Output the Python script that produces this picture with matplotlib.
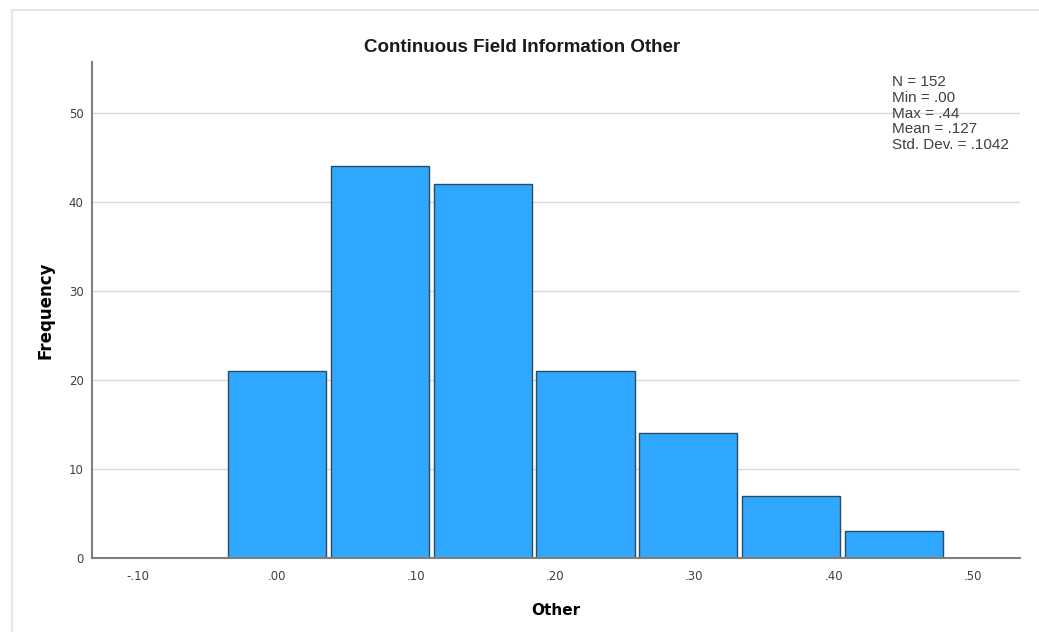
import matplotlib
matplotlib.use("Agg")
import matplotlib.pyplot as plt
from matplotlib.patches import Rectangle

# ---- data ----
bin_centers = [0.0, 0.0739, 0.1478, 0.2217, 0.2956, 0.3695, 0.4434]
counts = [21, 44, 42, 21, 14, 7, 3]
bin_width = 0.0739
x_ticks = [-0.10, 0.00, 0.10, 0.20, 0.30, 0.40, 0.50]
x_tick_labels = ["-.10", ".00", ".10", ".20", ".30", ".40", ".50"]
y_ticks = [0, 10, 20, 30, 40, 50]
stat_names = ["N", "Min", "Max", "Mean", "Std. Dev."]
stat_values = ["152", ".00", ".44", ".127", ".1042"]
title = "Continuous Field Information Other"
x_label = "Other"
y_label = "Frequency"

W, H = 1039, 632
fig = plt.figure(figsize=(W / 100, H / 100), dpi=100)

# light outer frame
fig.patches.append(Rectangle((12 / W, -0.1), 1.2, 1.1 - 10 / H, transform=fig.transFigure,
                             fill=False, edgecolor="#e6e6e6", linewidth=1.5))

ax = fig.add_axes([92 / W, (H - 558) / H, (1020 - 92) / W, (558 - 62) / H])
ax.set_xlim(-0.1329, 0.5339)
ax.set_ylim(0, 55.73)

for y in y_ticks[1:]:
    ax.axhline(y, color="#d9d9d9", linewidth=1.0, zorder=0)

ax.bar(bin_centers, counts, width=bin_width * 0.955, color="#30a8ff",
       edgecolor="#2f4a60", linewidth=1.0, zorder=2)

for s in ["top", "right"]:
    ax.spines[s].set_visible(False)
for s in ["left", "bottom"]:
    ax.spines[s].set_color("#7f7f7f")
    ax.spines[s].set_linewidth(1.5)

ax.set_xticks(x_ticks)
ax.set_xticklabels(x_tick_labels)
ax.set_yticks(y_ticks)
ax.tick_params(axis="both", length=0, labelsize=8.5, labelcolor="#404040")
ax.tick_params(axis="x", pad=9)
ax.tick_params(axis="y", pad=6)

ax.set_xlabel(x_label, fontsize=11, fontweight="bold", family="DejaVu Sans", labelpad=14)
ax.set_ylabel(y_label, fontsize=12, fontweight="bold", family="DejaVu Sans", labelpad=10)

fig.text(522 / W, 1 - 47 / H, title, ha="center", va="center", fontsize=13.5,
         fontweight="bold", family="Liberation Sans", color="#1a1a1a")

stats_text = "\n".join(f"{n} = {v}" for n, v in zip(stat_names, stat_values))
fig.text(892 / W, 1 - 75 / H, stats_text, ha="left", va="top", fontsize=11,
         family="Liberation Sans", color="#404040", linespacing=1.16)

fig.savefig("out.png", dpi=100)
